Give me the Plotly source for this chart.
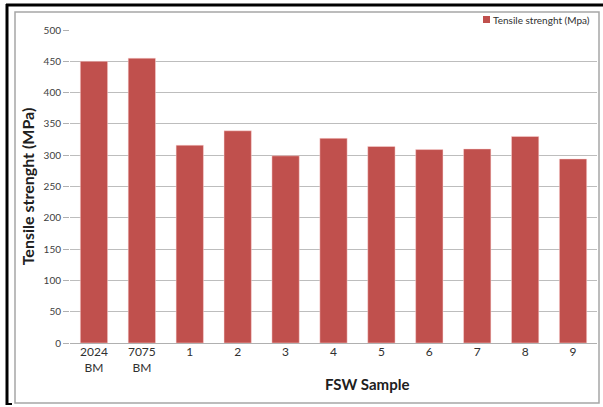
import plotly.graph_objects as go

categories = ["2024<br>BM", "7075<br>BM", "1", "2", "3", "4", "5", "6", "7", "8", "9"]
tensile = [450, 455, 316, 339, 299, 327, 314, 309, 310, 330, 294]
y_ticks = [0, 50, 100, 150, 200, 250, 300, 350, 400, 450, 500]
series_name = "Tensile strenght (Mpa)"
x_title = "FSW Sample"
y_title = "Tensile strenght (MPa)"

W, H = 603, 407
L, R, T, B = 70, 6, 30, 64
pw, ph = W - L - R, H - T - B

def px(x):
    return (x - L) / pw

def py(y):
    return (H - B - y) / ph

fig = go.Figure()
fig.add_trace(go.Bar(
    x=categories, y=tensile, name=series_name,
    marker=dict(color="#C0504D", line=dict(color="rgba(255,220,220,0.8)", width=0.6)),
    showlegend=False,
))

shapes = [
    dict(type="rect", xref="paper", yref="paper", x0=px(15), x1=px(599), y0=py(403), y1=py(12),
         line=dict(color="#a6a6a6", width=1.5), fillcolor="rgba(0,0,0,0)", layer="below"),
    dict(type="line", xref="paper", yref="paper", x0=px(6), x1=px(603), y0=py(5), y1=py(5),
         line=dict(color="black", width=3)),
    dict(type="line", xref="paper", yref="paper", x0=px(7), x1=px(7), y0=py(4), y1=py(405),
         line=dict(color="black", width=3)),
    dict(type="line", xref="paper", yref="paper", x0=px(6), x1=px(12), y0=py(404), y1=py(404),
         line=dict(color="black", width=2)),
    # legend key square
    dict(type="rect", xref="paper", yref="paper", x0=px(483), x1=px(490), y0=py(23), y1=py(16),
         line=dict(width=0), fillcolor="#C0504D"),
]

annotations = [
    dict(text=series_name, xref="paper", yref="paper", x=px(491), y=py(19.5),
         xanchor="left", yanchor="middle", showarrow=False,
         font=dict(size=10, color="#303030")),
    dict(text="<b>" + x_title + "</b>", xref="paper", yref="paper", x=px(367), y=py(384),
         xanchor="center", yanchor="middle", showarrow=False,
         font=dict(size=15, color="#202020")),
]

fig.update_layout(
    width=W, height=H,
    margin=dict(l=L, r=R, t=T, b=B, pad=0),
    paper_bgcolor="white", plot_bgcolor="white",
    font=dict(family="Lato, 'Open Sans', sans-serif", color="#404040", size=10),
    bargap=0.43,
    shapes=shapes,
    annotations=annotations,
    xaxis=dict(
        tickfont=dict(size=12, color="#303030"),
        showline=False, ticks="", showgrid=False,
    ),
    yaxis=dict(
        range=[0, 500], tickvals=y_ticks, ticktext=[str(v) for v in y_ticks],
        title=dict(text="<b>" + y_title + "</b>", font=dict(size=16, color="#202020"), standoff=4),
        tickfont=dict(size=10, color="#404040"),
        showgrid=True, gridcolor="#bdbdbd", gridwidth=1,
        ticks="outside", ticklen=6, tickcolor="#b0b0b0",
        showline=False, zeroline=True, zerolinecolor="#b0b0b0", zerolinewidth=1,
    ),
)

fig.write_html("out.html", config={"displayModeBar": False},
               post_script="document.body.style.margin='0';document.body.style.padding='0';")
